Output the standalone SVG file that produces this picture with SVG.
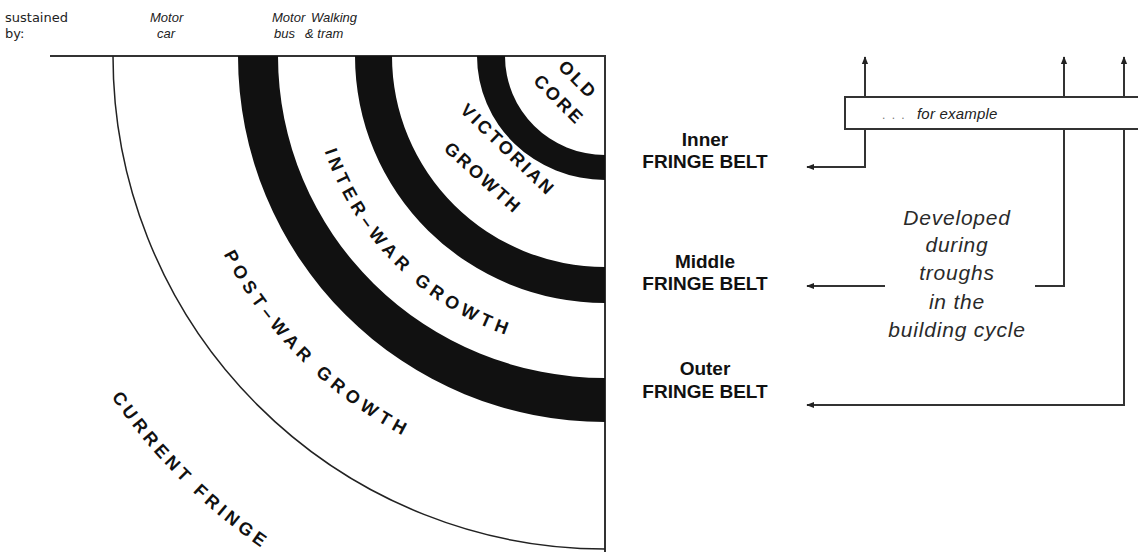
<svg xmlns="http://www.w3.org/2000/svg" width="1138" height="556" viewBox="0 0 1138 556">
<defs>
<style>
.lbl{font-family:"Liberation Sans",Arial,sans-serif;font-size:13px;fill:#222}
.sus{font-family:"DejaVu Sans",Verdana,sans-serif;font-size:13px;fill:#222}
.it{font-style:italic}
.zone{font-family:"Liberation Sans",Arial,sans-serif;font-size:18px;font-weight:bold;fill:#111}
.belt{font-family:"Liberation Sans",Arial,sans-serif;font-size:19px;font-weight:bold;fill:#111;text-anchor:middle}
.dev{font-family:"Liberation Sans",Arial,sans-serif;font-size:21px;font-style:italic;fill:#2a2a2a;text-anchor:middle;letter-spacing:0.8px}
.ln{fill:none;stroke:#333;stroke-width:2}
.band{fill:#111}
</style>
<marker id="ah" viewBox="0 0 10 10" refX="9" refY="5" markerWidth="8" markerHeight="8" orient="auto-start-reverse" markerUnits="userSpaceOnUse">
<path d="M0,1 L10,5 L0,9 z" fill="#222"/>
</marker>
<path id="pInter" d="M309,56 A296,296 0 0 0 605,352"/>
<path id="pPost" d="M175,56 A430,430 0 0 0 605,486"/>
<path id="pCur" d="M5,56 A600,600 0 0 0 605,656"/>
</defs>
<rect width="1138" height="556" fill="#fff"/>

<g id="frame">
<path class="ln" d="M50,56 H605 V552"/>
</g>

<g id="bands">
<path class="band" d="M477,56 A128,124 0 0 0 605,180 V155 A100,99 0 0 1 505,56 Z"/>
<path class="band" d="M355,56 A250,247 0 0 0 605,303 V267 A213,211 0 0 1 392,56 Z"/>
<path class="band" d="M238,56 A367,366 0 0 0 605,422 V378 A327,322 0 0 1 278,56 Z"/>
<path fill="none" stroke="#222" stroke-width="1.5" d="M113,56 A492,493 0 0 0 605,549"/>
</g>

<g id="top-labels">
<text class="sus" x="5" y="22">sustained</text>
<text class="sus" x="5" y="38">by:</text>
<text class="lbl it" x="150" y="22">Motor</text>
<text class="lbl it" x="157" y="38">car</text>
<text class="lbl it" x="272" y="22">Motor</text>
<text class="lbl it" x="274" y="38">bus</text>
<text class="lbl it" x="311" y="22">Walking</text>
<text class="lbl it" x="305" y="38">&amp; tram</text>
</g>

<g id="zone-old-core">
<text class="zone" style="letter-spacing:2.8px" transform="translate(578,80) rotate(45)" text-anchor="middle" dy="6">OLD</text>
<text class="zone" style="letter-spacing:2.8px" transform="translate(559,100) rotate(45)" text-anchor="middle" dy="6">CORE</text>
</g>
<g id="zone-victorian">
<text class="zone" style="letter-spacing:2.8px" transform="translate(508,150) rotate(44)" text-anchor="middle" dy="6">VICTORIAN</text>
<text class="zone" style="letter-spacing:2.5px" transform="translate(483,178) rotate(42)" text-anchor="middle" dy="6">GROWTH</text>
</g>
<g id="zone-interwar">
<text class="zone" style="letter-spacing:4.9px"><textPath href="#pInter" startOffset="50%" text-anchor="middle">INTER–WAR GROWTH</textPath></text>
</g>
<g id="zone-postwar">
<text class="zone" style="letter-spacing:5px"><textPath href="#pPost" startOffset="50%" text-anchor="middle">POST–WAR GROWTH</textPath></text>
</g>
<g id="zone-current">
<text class="zone" style="letter-spacing:4px"><textPath href="#pCur" startOffset="50%" text-anchor="middle">CURRENT FRINGE</textPath></text>
</g>

<g id="inner-belt">
<text class="belt" x="705" y="146">Inner</text>
<text class="belt" x="705" y="168">FRINGE BELT</text>
</g>
<g id="middle-belt">
<text class="belt" x="705" y="268">Middle</text>
<text class="belt" x="705" y="290">FRINGE BELT</text>
</g>
<g id="outer-belt">
<text class="belt" x="705" y="375">Outer</text>
<text class="belt" x="705" y="398">FRINGE BELT</text>
</g>

<g id="example-box">
<rect x="845" y="97" width="300" height="32" fill="#fff" stroke="#333" stroke-width="2"/>
<text class="lbl" x="882" y="119" style="font-size:12px;fill:#777;letter-spacing:1.5px">. . .</text>
<text class="lbl it" x="917" y="119" style="font-size:15px;letter-spacing:0.2px">for example</text>
</g>

<g id="developed">
<text class="dev" x="957" y="225">Developed</text>
<text class="dev" x="957" y="252">during</text>
<text class="dev" x="957" y="280">troughs</text>
<text class="dev" x="957" y="309">in the</text>
<text class="dev" x="957" y="337">building cycle</text>
</g>

<g id="connectors">
<path class="ln" d="M865,97 V57" marker-end="url(#ah)"/>
<path class="ln" d="M1064,97 V57" marker-end="url(#ah)"/>
<path class="ln" d="M1124,97 V57" marker-end="url(#ah)"/>
<path class="ln" d="M865,129 V167 H807" marker-end="url(#ah)"/>
<path class="ln" d="M885,286 H807" marker-end="url(#ah)"/>
<path class="ln" d="M1064,129 V286 H1035"/>
<path class="ln" d="M1124,129 V405 H807" marker-end="url(#ah)"/>
</g>
</svg>
